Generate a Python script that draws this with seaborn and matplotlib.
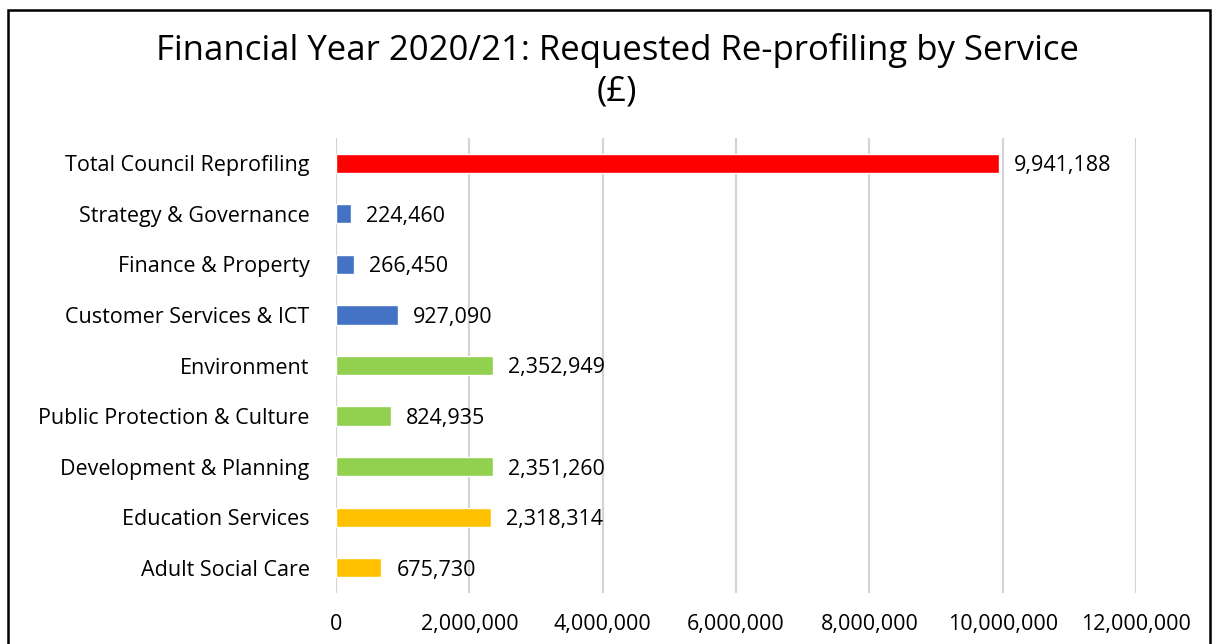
import matplotlib
matplotlib.use("Agg")
import matplotlib.pyplot as plt
import seaborn as sns
import pandas as pd
from matplotlib.patches import Rectangle

categories = ["Total Council Reprofiling", "Strategy & Governance", "Finance & Property",
              "Customer Services & ICT", "Environment", "Public Protection & Culture",
              "Development & Planning", "Education Services", "Adult Social Care"]
values = [9941188, 224460, 266450, 927090, 2352949, 824935, 2351260, 2318314, 675730]
colors = ["#FF0000", "#4472C4", "#4472C4", "#4472C4", "#92D050", "#92D050", "#92D050",
          "#FFC000", "#FFC000"]
xticks = [0, 2000000, 4000000, 6000000, 8000000, 10000000, 12000000]
title_lines = ["Financial Year 2020/21: Requested Re-profiling by Service", "(£)"]

sns.set_theme(style="white")
plt.rcParams['font.family'] = ['Open Sans', 'DejaVu Sans']

df = pd.DataFrame({"category": categories, "value": values})

fig = plt.figure(figsize=(12.16, 6.44), dpi=100)
ax = fig.add_axes([336/1216, 1-593/644, 800/1216, (593-138)/644])

sns.barplot(data=df, y="category", x="value", hue="category", palette=colors,
            order=categories, hue_order=categories, legend=False, width=0.38,
            orient="h", ax=ax, saturation=1)

ax.set_xlim(0, 12000000)
ax.set_xticks(xticks)
ax.set_xticklabels([f"{v:,}" for v in xticks])
ax.xaxis.grid(True, color="#D4D4D4", linewidth=1.6)
ax.set_axisbelow(True)
for s in ax.spines.values():
    s.set_visible(False)
ax.set_xlabel("")
ax.set_ylabel("")
ax.tick_params(axis="x", length=0, pad=15, labelsize=15.5, colors="#000000")
ax.tick_params(axis="y", length=0, pad=19, labelsize=15.5, colors="#000000")

for i, v in enumerate(values):
    ax.annotate(f"{v:,}", xy=(v, i), xytext=(11, 0), textcoords="offset points",
                va="center_baseline", ha="left", fontsize=15.5, color="#000000")

fig.text(617/1216, 1-50/644, title_lines[0], ha="center", va="center", fontsize=25,
         color="#000000")
fig.text(617/1216, 1-92/644, title_lines[1], ha="center", va="center", fontsize=25,
         color="#000000")

fig.patches.append(Rectangle((8/1216, -0.05), (1210-8)/1216, 1.05-10/644,
                             transform=fig.transFigure, fill=False,
                             edgecolor="black", linewidth=1.8))

fig.savefig("out.png", dpi=100)
